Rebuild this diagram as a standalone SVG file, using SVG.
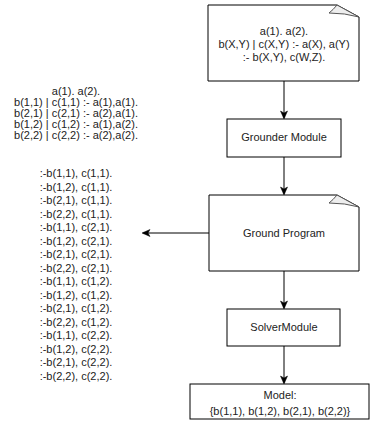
<svg xmlns="http://www.w3.org/2000/svg" width="374" height="423" viewBox="0 0 374 423">
<style>
text{font-family:"Liberation Sans",Arial,sans-serif;font-size:11px;fill:#222;text-anchor:middle}
.box{fill:#fff;stroke:#000;stroke-width:1}
.fold{fill:#eee;stroke:#555;stroke-width:1}
.edge{fill:none;stroke:#000;stroke-width:1}
</style>
<defs>
<marker id="arr" markerWidth="10" markerHeight="10" refX="8" refY="5" orient="auto" markerUnits="userSpaceOnUse">
<path d="M1,1.5 L9,5 L1,8.5 L3,5 Z" fill="#000" stroke="#000" stroke-width="0.5"/>
</marker>
</defs>
<rect width="374" height="423" fill="#fff"/>
<g id="connectors">
<line class="edge" x1="284" y1="81" x2="284" y2="118" marker-end="url(#arr)"/>
<line class="edge" x1="284" y1="157" x2="284" y2="194" marker-end="url(#arr)"/>
<line class="edge" x1="209" y1="233" x2="143" y2="233" marker-end="url(#arr)"/>
<line class="edge" x1="284" y1="271" x2="284" y2="308" marker-end="url(#arr)"/>
<line class="edge" x1="284" y1="346" x2="284" y2="383" marker-end="url(#arr)"/>
</g>
<g id="input-program">
<path class="box" d="M208,5 H337 L359,17 V81 H208 Z"/>
<path class="fold" d="M337,5 Q333,10 329,13 Q345,13 359,17 Z"/>
<text x="284" y="35">a(1). a(2).</text>
<text x="284" y="48">b(X,Y) | c(X,Y) :- a(X), a(Y)</text>
<text x="284" y="61">:- b(X,Y), c(W,Z).</text>
</g>
<g id="grounder">
<rect class="box" x="227" y="119" width="114" height="38"/>
<text x="284" y="141">Grounder Module</text>
</g>
<g id="ground-program">
<path class="box" d="M209,195 H337 L359,207 V271 H209 Z"/>
<path class="fold" d="M337,195 Q333,200 329,203 Q345,203 359,207 Z"/>
<text x="284" y="237">Ground Program</text>
</g>
<g id="solver">
<rect class="box" x="227" y="309" width="113" height="37"/>
<text x="284" y="331">SolverModule</text>
</g>
<g id="model">
<rect class="box" x="190" y="384" width="179" height="35"/>
<text x="280" y="399">Model:</text>
<text x="280" y="415">{b(1,1), b(1,2), b(2,1), b(2,2)}</text>
</g>
<g id="ground-rules">
<text x="76" y="95">a(1). a(2).</text>
<text x="76" y="106">b(1,1) | c(1,1) :- a(1),a(1).</text>
<text x="76" y="117">b(2,1) | c(2,1) :- a(2),a(1).</text>
<text x="76" y="128">b(1,2) | c(1,2) :- a(1),a(2).</text>
<text x="76" y="139">b(2,2) | c(2,2) :- a(2),a(2).</text>
</g>
<g id="ground-constraints">
<text x="76" y="177">:-b(1,1), c(1,1).</text>
<text x="76" y="190.5">:-b(1,2), c(1,1).</text>
<text x="76" y="204">:-b(2,1), c(1,1).</text>
<text x="76" y="217.5">:-b(2,2), c(1,1).</text>
<text x="76" y="231">:-b(1,1), c(2,1).</text>
<text x="76" y="244.5">:-b(1,2), c(2,1).</text>
<text x="76" y="258">:-b(2,1), c(2,1).</text>
<text x="76" y="271.5">:-b(2,2), c(2,1).</text>
<text x="76" y="285">:-b(1,1), c(1,2).</text>
<text x="76" y="298.5">:-b(1,2), c(1,2).</text>
<text x="76" y="312">:-b(2,1), c(1,2).</text>
<text x="76" y="325.5">:-b(2,2), c(1,2).</text>
<text x="76" y="339">:-b(1,1), c(2,2).</text>
<text x="76" y="352.5">:-b(1,2), c(2,2).</text>
<text x="76" y="366">:-b(2,1), c(2,2).</text>
<text x="76" y="379.5">:-b(2,2), c(2,2).</text>
</g>
</svg>
